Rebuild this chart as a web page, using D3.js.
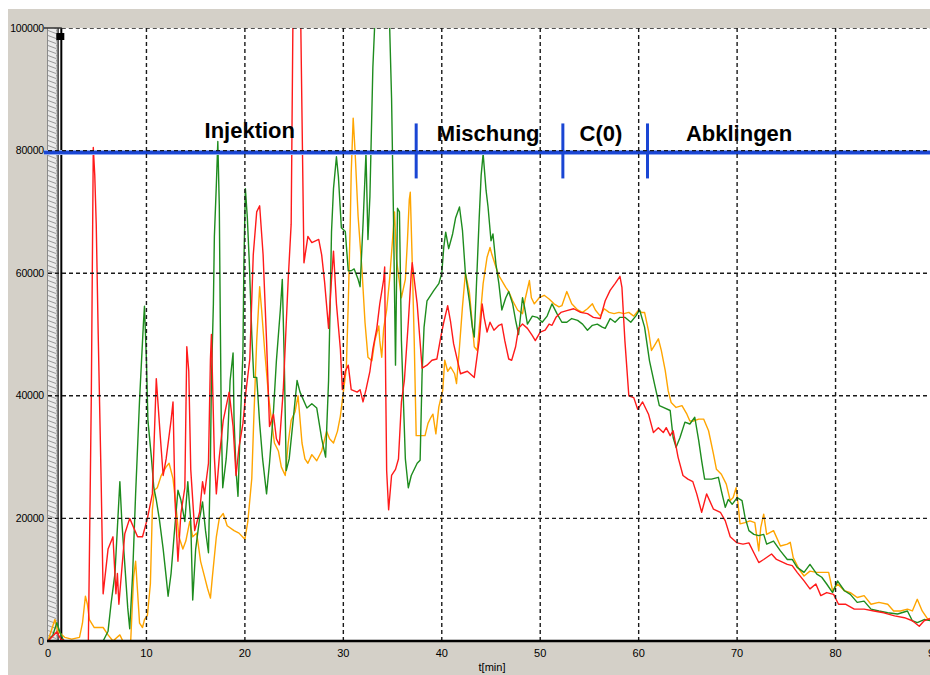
<!DOCTYPE html>
<html>
<head>
<meta charset="utf-8">
<script src="https://cdn.jsdelivr.net/npm/d3@7"></script>
<style>
  body { margin: 0; background: #fff; }
  svg { display: block; }
  .tick-lbl { font-family: "Liberation Sans", Arial, sans-serif; font-size: 11px; fill: #000; }
  .ylbl { font-size: 10.5px; letter-spacing: -0.2px; }
  .phase { font-family: "Liberation Sans", Arial, sans-serif; font-size: 22px; font-weight: bold; fill: #000; }
</style>
</head>
<body>
<svg id="chart" width="930" height="675"></svg>
<script>
// Messwerte (Zeit in min, Zählrate)
var redT = [0,0.5,0.9,1.3,1.8,4.1,4.2,4.4,4.6,4.75,4.9,5.1,5.4,5.6,6.1,6.6,6.9,7.05,7.2,7.8,8.3,9.1,9.6,10.1,10.6,11.0,11.4,11.7,12.0,12.5,12.7,12.9,13.2,13.5,13.9,14.1,14.3,14.5,14.9,15.4,15.7,15.9,16.3,16.5,16.6,16.9,17.1,17.4,17.8,18.4,18.8,19.1,19.4,19.8,20.1,20.5,20.85,21.2,21.5,21.85,22.2,22.5,22.9,23.2,23.5,23.9,24.4,24.7,24.9,25.6,26.0,26.4,26.8,27.5,27.8,28.1,28.5,28.8,29.0,29.3,29.7,29.9,30.2,30.5,30.8,31.4,31.7,32.0,32.3,32.7,33.0,33.4,33.7,34.1,34.2,34.3,34.4,34.6,34.9,35.3,35.6,35.9,36.2,36.6,36.9,37.0,37.5,38.0,38.5,39.0,39.5,39.9,40.2,40.6,40.9,41.2,41.9,42.6,43.3,43.8,44.1,44.3,44.6,44.9,45.3,45.8,46.1,46.4,46.8,47.1,47.5,47.8,48.2,48.7,49.2,49.5,50.0,50.5,50.9,51.2,51.6,52.1,52.7,53.4,54.1,54.8,55.4,56.1,56.6,57.1,57.6,58.1,58.3,58.6,59.0,59.5,59.9,60.4,61.0,61.5,62.0,62.5,62.8,63.2,63.5,64.0,64.5,65.0,65.5,65.9,66.4,66.9,67.6,68.3,68.8,69.3,70.0,70.6,71.2,71.7,72.2,72.7,73.5,74.0,75.1,75.6,76.1,76.8,77.4,78.0,78.5,79.1,79.8,80.3,81.0,81.9,82.9,83.9,84.9,86.0,87.0,87.8,88.5,89.0,89.5,90.0];
var redV = [0,800,1500,300,0,0,13000,40000,80500,76000,68000,50000,26000,7700,15000,17000,7700,11000,6000,17500,20000,17000,17000,20000,24000,42800,33500,27000,29700,36000,39000,23000,13000,20800,25000,48000,44000,28000,18000,21000,26000,24000,29000,46000,50000,30000,24000,30000,36000,40600,35000,27000,31600,35500,40600,46000,63000,70000,71000,63000,49000,35000,37000,33000,32000,41000,59000,68000,105000,110000,61700,66000,65000,65500,63000,58500,51000,59000,63600,55000,47600,41000,44000,45000,41000,40600,41000,39000,41000,44000,47600,51000,55000,59000,61000,42500,27800,21400,27000,28000,29700,39000,42500,52000,60000,61700,55000,44500,45000,45800,46000,49600,52000,54700,52000,48500,43600,44000,43000,49000,55000,52800,50400,52000,50700,51500,51700,49000,46000,45800,48000,51000,51700,51000,49800,49000,50400,50700,51700,51500,52800,53600,53900,54200,53600,53400,52800,52600,55500,57200,58300,59500,57700,49000,40000,39700,37800,39000,37000,34000,34800,34000,34800,33500,34300,30000,27000,26400,26000,24000,21000,24000,21500,21000,19600,17000,16000,15800,16000,14400,12800,13300,14200,13300,12500,12300,11200,9800,8500,9300,7400,7900,7600,6000,6000,5200,5200,4900,4600,4100,3800,3300,2400,3300,3600,3400];

var greenT = [0,0.5,0.9,1.2,1.6,5.6,6.1,6.4,6.8,7.1,7.3,7.5,7.8,8.1,8.3,8.6,8.9,9.05,9.3,9.5,9.7,9.8,10.0,10.15,10.5,10.75,11.0,11.3,11.7,12.0,12.2,12.5,12.8,13.2,13.5,13.9,14.2,14.5,14.7,15.0,15.4,15.7,16.0,16.3,16.5,16.6,16.8,16.9,17.1,17.25,17.4,17.5,17.6,17.75,18.1,18.25,18.5,18.8,18.9,19.1,19.3,19.55,19.8,19.9,20.05,20.25,20.45,20.7,20.9,21.2,21.5,21.8,22.2,22.5,22.9,23.2,23.6,23.8,24.0,24.2,24.5,24.9,25.3,25.6,26.3,26.8,27.3,27.8,28.2,28.5,28.65,28.8,29.0,29.3,29.5,29.8,30.2,30.5,30.8,31.1,31.5,31.7,32.0,32.3,32.5,32.7,33.0,33.2,33.5,34.5,34.7,34.9,35.1,35.3,35.5,35.7,35.9,36.1,36.3,36.6,36.9,37.5,37.8,38.0,38.2,38.5,39.2,39.7,40.0,40.2,40.4,40.7,41.1,41.4,41.8,42.1,42.4,42.8,43.1,43.3,43.5,43.8,44.0,44.2,44.5,44.7,45.0,45.2,45.5,45.8,46.1,46.5,46.8,47.2,47.5,47.8,48.2,48.4,48.7,49.2,49.7,50.2,50.7,51.2,51.7,52.2,52.7,53.2,53.8,54.3,54.8,55.3,55.8,56.3,56.6,57.1,57.6,58.1,58.6,59.2,59.7,60.1,60.6,61.1,61.6,62.1,62.5,63.2,63.5,63.8,64.2,64.7,65.2,65.7,66.1,66.4,66.7,67.4,68.1,68.4,68.8,69.1,69.5,70.0,70.5,70.8,71.2,71.7,72.2,72.7,73.0,73.7,74.4,75.1,75.6,76.1,76.8,77.4,78.1,78.6,79.1,79.7,80.2,80.9,81.5,82.2,82.9,83.6,84.4,85.3,86.3,87.3,87.8,88.3,89.0,89.7,90.0];
var greenV = [0,1000,3000,1500,0,0,1600,6000,11000,20000,26000,19500,12500,5400,2000,11000,24000,29700,39300,45700,52000,54600,45700,36000,30000,25000,23000,20000,15000,10500,7300,11000,17000,24600,23000,19500,26000,19500,6700,15000,20000,22700,18000,14400,29700,42500,55000,66000,74400,81500,71000,52700,36000,25000,29700,33000,42500,47000,36000,27800,23600,36000,47000,61700,73800,69000,61700,50000,43000,43000,35500,29700,24000,29000,37400,45700,54000,59000,45700,27800,29700,36000,42500,40600,38000,38700,38000,33000,30000,42500,54000,66800,73800,79000,75700,67400,66800,60400,60400,60700,59000,57800,68000,79600,65500,72500,93600,101000,110000,110000,100500,88500,68700,45000,70600,70000,49000,39300,29700,25000,27000,29000,29500,43600,51200,55500,57200,58300,60000,64200,66700,64000,66400,69000,70800,67000,60000,55500,51200,49600,57200,69000,76000,79500,73500,70800,65300,66400,61500,58300,54000,56000,57000,55000,52300,50000,56000,54500,51700,53000,52800,52000,53000,55000,53400,52000,52000,52600,52300,51700,50700,51500,51700,51200,51000,52600,52000,52800,52800,52000,53000,54000,51200,45700,42000,38400,38100,37600,33200,31600,33200,35700,35400,36500,32700,29400,26400,26400,26700,24500,21800,23100,22300,23400,22900,20200,18000,17400,17200,17400,15800,16300,14700,13300,13300,12000,11200,12500,10900,10400,9300,7900,9800,8200,7600,6300,6500,5200,4900,4600,4400,4900,3300,3000,3500,3300,3400];

var orangeT = [0,0.3,0.7,1.0,1.7,2.4,3.2,3.5,3.8,4.0,4.2,4.7,5.6,6.1,6.6,7.3,7.6,8.4,8.7,8.9,9.1,9.3,9.6,9.8,10.1,10.4,10.6,10.8,11.1,11.5,12.0,12.3,12.7,13.0,13.3,13.7,14.0,14.4,14.7,15.1,15.5,15.9,16.2,16.5,16.7,17.1,17.4,17.8,18.2,18.9,19.4,20.0,20.3,20.7,20.9,21.2,21.5,21.7,22.0,22.4,22.7,23.0,23.4,23.7,24.1,24.4,24.7,25.1,25.4,25.8,26.1,26.4,26.8,27.3,27.8,28.3,28.6,29.0,29.4,29.7,30.0,30.3,30.5,30.7,30.8,31.0,31.2,31.5,31.9,32.2,32.5,32.9,33.2,33.6,33.7,33.9,34.1,34.4,34.7,35.0,35.2,35.4,35.7,35.9,36.3,36.5,36.7,36.8,37.0,37.2,37.4,38.3,38.6,38.9,39.1,39.4,39.7,40.1,40.3,40.6,40.9,41.3,41.5,41.8,42.1,42.4,42.8,43.1,43.3,43.6,43.9,44.2,44.6,44.9,45.1,45.5,45.8,46.1,46.5,46.8,47.2,47.7,48.2,48.5,48.9,49.1,49.4,49.9,50.4,50.9,51.4,51.9,52.2,52.7,53.2,53.8,54.3,54.8,55.3,55.6,56.1,56.5,57.0,57.5,58.0,58.5,59.0,59.5,60.0,60.3,60.6,61.0,61.3,61.6,62.0,62.3,62.7,63.0,63.3,63.8,64.4,64.9,65.2,65.6,66.1,66.6,67.1,67.6,67.9,68.4,68.9,69.3,69.6,69.9,70.1,70.3,70.8,71.3,71.8,72.2,72.4,72.7,73.0,73.7,74.4,75.1,75.4,75.7,76.3,76.8,77.4,78.1,78.8,79.3,79.7,80.2,80.9,81.5,82.2,82.9,83.6,84.4,85.3,85.9,86.6,87.3,87.8,88.3,88.8,89.4,89.7,90.0];
var orangeV = [0,1500,3500,1600,600,300,600,2900,7300,6000,3500,2200,2200,1000,0,1000,0,0,10500,13000,8000,2900,2200,3500,4200,9300,21400,24600,25000,27000,28400,29000,26500,22000,17000,15000,16300,19500,17000,17600,13000,10500,8600,7000,10500,17000,20000,20800,18800,18000,17600,16600,19500,26500,36000,49000,57800,54000,47600,40000,36000,32300,31000,28400,27000,32300,36000,37400,40000,32300,29700,29000,30400,29400,31000,34200,33000,32300,34200,36700,40600,44400,55000,68000,76400,85300,79600,69300,60400,52000,46300,45700,49000,51400,49000,46300,51000,54000,59000,65500,70000,62300,58500,56000,59000,64900,72000,73200,61700,49000,33500,33500,35500,36500,37000,33800,38200,40900,45800,44000,44700,43600,42000,48000,54500,60000,57000,51700,48000,47400,52800,58300,62600,64200,63000,61000,59600,58800,57700,57000,55500,54000,53400,56000,58800,56000,55000,56000,56400,55800,55000,54500,54700,57000,55000,54000,53600,54200,55000,54000,53000,54200,53600,53400,53600,53400,53600,53000,54000,53600,53600,50600,47400,48200,49300,47400,44100,40800,38900,38100,38400,37000,35900,35900,36200,36200,34300,30500,28000,27200,25600,22900,23400,25000,22300,19100,19300,19600,19300,14700,18500,20700,17400,18000,15500,15800,16100,13600,11700,10600,11400,11200,11200,11200,8200,9300,8200,7900,7100,7400,6000,6300,6000,4900,4900,5200,4900,6800,4900,3500,3800,3600];

var xTicks = [0, 10, 20, 30, 40, 50, 60, 70, 80, 90];
var yTicks = [0, 20000, 40000, 60000, 80000, 100000];

// Phasen
var phaseNames = ["Injektion", "Mischung", "C(0)", "Abklingen"];
var phaseTextStart = [15.9, 39.5, 54.0, 64.8];
var phaseBounds = [37.4, 52.3, 60.9];
var phaseLevel = 79700;
var cursorT = 1.2;
var hatchEnd = 0.8;

function draw() {
    let svg = d3.select("#chart");
    let W = 930, H = 675;

    let x = d3.scaleLinear().domain([0, 90]).range([48, 934]);
    let y = d3.scaleLinear().domain([0, 100000]).range([641, 28]);

    // Hintergrund (Fensterrahmen)
    svg.append("rect").attr("x", 8).attr("y", 9).attr("width", W - 8).attr("height", H - 9).attr("fill", "#d4d0c8");
    svg.append("rect").attr("x", x(0)).attr("y", y(100000))
        .attr("width", W - x(0)).attr("height", y(0) - y(100000)).attr("fill", "#fff");

    let defs = svg.append("defs");
    defs.append("clipPath").attr("id", "plotClip").append("rect")
        .attr("x", x(0)).attr("y", y(100000)).attr("width", W - x(0)).attr("height", y(0) - y(100000));
    let pat = defs.append("pattern").attr("id", "hatch").attr("patternUnits", "userSpaceOnUse")
        .attr("width", 8).attr("height", 5);
    pat.append("rect").attr("width", 8).attr("height", 5).attr("fill", "#ececec");
    pat.append("line").attr("x1", 0).attr("y1", 0.5).attr("x2", 8).attr("y2", 3.5)
        .attr("stroke", "#9a9a9a").attr("stroke-width", 1);

    // schraffierter Streifen + Cursor links
    let sx0 = x(0) - 1, sx1 = x(hatchEnd) + 1;
    svg.append("rect").attr("x", sx0).attr("y", y(100000)).attr("width", sx1 - sx0)
        .attr("height", y(0) - y(100000)).attr("fill", "url(#hatch)");
    [[sx0 + 0.5, "#8a8a8a", 1], [sx1 + 0.5, "#8a8a8a", 1.5], [x(cursorT) - 1.5, "#333", 1], [x(cursorT) + 1.5, "#000", 2]]
        .forEach(function (l) {
            svg.append("line").attr("x1", l[0]).attr("x2", l[0]).attr("y1", y(100000)).attr("y2", y(0))
                .attr("stroke", l[1]).attr("stroke-width", l[2]);
        });
    svg.append("rect").attr("x", x(cursorT) - 3.5).attr("y", 33).attr("width", 8).attr("height", 7).attr("fill", "#000");

    // Kurven
    let plot = svg.append("g").attr("clip-path", "url(#plotClip)");
    let series = [
        { t: orangeT, v: orangeV, color: "#ffa500" },
        { t: greenT, v: greenV, color: "#1e8c1e" },
        { t: redT, v: redV, color: "#ff1a1a" }
    ];
    let line = d3.line()
        .x(function (d) { return x(d[0]); })
        .y(function (d) { return y(d[1]); });
    series.forEach(function (s) {
        plot.append("path")
            .datum(d3.zip(s.t, s.v))
            .attr("d", line)
            .attr("fill", "none")
            .attr("stroke", s.color)
            .attr("stroke-width", 1.4)
            .attr("stroke-linejoin", "round");
    });

    // Phasenlinie
    svg.append("line").attr("x1", 44).attr("x2", W).attr("y1", y(phaseLevel)).attr("y2", y(phaseLevel))
        .attr("stroke", "#8fa8ee").attr("stroke-width", 5);
    svg.append("line").attr("x1", 44).attr("x2", W).attr("y1", y(phaseLevel)).attr("y2", y(phaseLevel))
        .attr("stroke", "#1a46d4").attr("stroke-width", 3);
    svg.selectAll(".pbound").data(phaseBounds).enter().append("line")
        .attr("class", "pbound")
        .attr("x1", function (d) { return x(d); }).attr("x2", function (d) { return x(d); })
        .attr("y1", y(phaseLevel) - 29).attr("y2", y(phaseLevel) + 26)
        .attr("stroke", "#1a46d4").attr("stroke-width", 3);
    svg.selectAll(".phase").data(phaseNames).enter().append("text")
        .attr("class", "phase")
        .attr("x", function (d, i) { return x(phaseTextStart[i]); })
        .attr("y", function (d, i) { return i === 0 ? 138 : 141; })
        .text(function (d) { return d; });

    // Gitter (gestrichelt, oben drauf)
    let grid = svg.append("g").attr("clip-path", "url(#plotClip)");
    grid.selectAll(".vg").data(xTicks.filter(function (d) { return d > 0; })).enter().append("line")
        .attr("x1", function (d) { return x(d); }).attr("x2", function (d) { return x(d); })
        .attr("y1", y(100000)).attr("y2", y(0))
        .attr("stroke", "#1a1a1a").attr("stroke-width", 1.4).attr("stroke-dasharray", "4,3");
    grid.selectAll(".hg").data(yTicks.filter(function (d) { return d > 0; })).enter().append("line")
        .attr("x1", function (d) { return d === 100000 ? x(cursorT) + 2 : x(0); }).attr("x2", W)
        .attr("y1", function (d) { return y(d); }).attr("y2", function (d) { return y(d); })
        .attr("stroke", "#1a1a1a").attr("stroke-width", 1.4).attr("stroke-dasharray", "4,3");
    svg.append("line").attr("x1", 44).attr("x2", x(cursorT) + 2).attr("y1", y(100000)).attr("y2", y(100000))
        .attr("stroke", "#333").attr("stroke-width", 1.5);

    // x-Achse
    svg.append("line").attr("x1", x(0) - 1).attr("x2", W).attr("y1", y(0)).attr("y2", y(0))
        .attr("stroke", "#000").attr("stroke-width", 2.5);
    svg.selectAll(".xl").data(xTicks).enter().append("text")
        .attr("class", "tick-lbl")
        .attr("x", function (d) { return x(d); }).attr("y", 657)
        .attr("text-anchor", "middle")
        .text(function (d) { return d; });
    svg.append("text").attr("class", "tick-lbl").attr("x", 492).attr("y", 671)
        .attr("text-anchor", "middle").style("font-size", "11px").text("t[min]");

    // y-Beschriftung
    svg.selectAll(".yl").data(yTicks).enter().append("text")
        .attr("class", "tick-lbl ylbl")
        .attr("x", 44).attr("y", function (d) { return y(d); })
        .attr("dy", "0.35em")
        .attr("text-anchor", "end")
        .text(function (d) { return d; });
}

draw();
</script>
</body>
</html>
